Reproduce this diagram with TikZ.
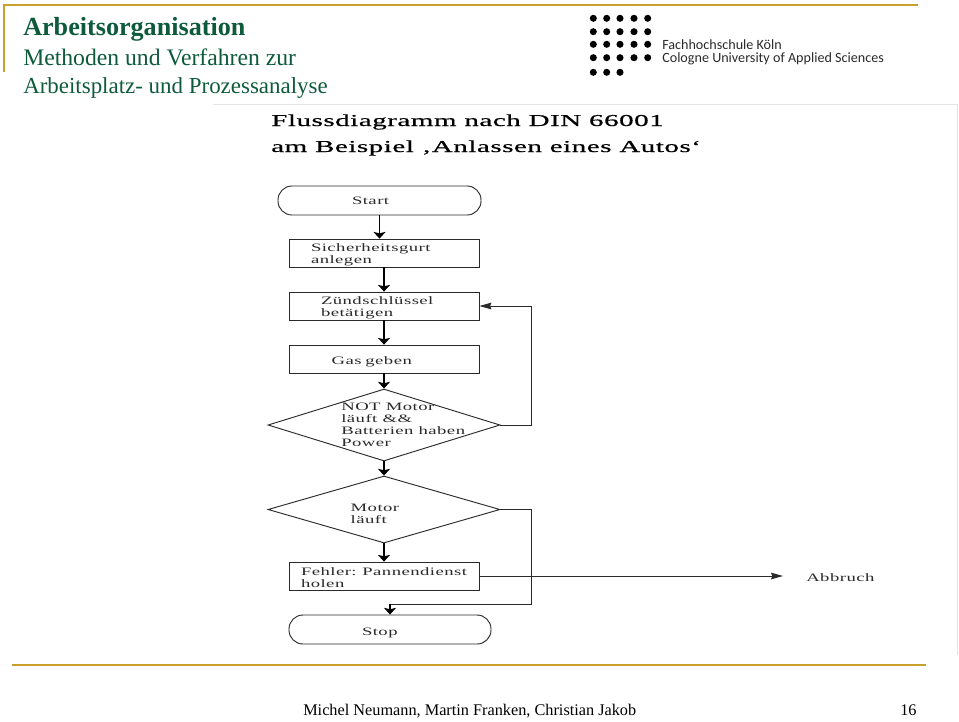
\documentclass[tikz,border=0pt]{standalone}
\usepackage{fontspec}
\setmainfont{Liberation Serif}
\newfontfamily\logofont{Carlito}
\newfontfamily\wideface[FakeStretch=1.65,LetterSpace=4]{Liberation Serif}
\newfontfamily\headface[FakeStretch=1.745,LetterSpace=3,FakeBold=0.6]{Liberation Serif}
\usetikzlibrary{arrows.meta,shapes.geometric}
\definecolor{gold}{HTML}{C9A02C}
\definecolor{deepgreen}{HTML}{0E5A3C}
\definecolor{framegrey}{HTML}{E4E4E4}
\definecolor{inkgrey}{HTML}{2A2A2A}
\newcommand\dectext[3]{\raisebox{#2}[0pt][0pt]{\makebox[0pt][l]{\hspace*{#1}\raisebox{-0.5\height}{\parbox[b]{120pt}{\raggedright\baselineskip=9pt #3}}}}}
\tikzset{
  x=0.75pt,y=-0.75pt,
  flowtext/.style={font=\wideface\fontsize{8.5}{9}\selectfont,text=inkgrey},
  procbox/.style={draw=inkgrey,line width=0.6pt,rectangle,minimum width=142.5pt,minimum height=21pt,inner sep=0pt,text width=142.5pt,align=left,flowtext},
  lead/.style 2 args={execute at begin node={\leftskip=#1\relax\rule{0pt}{#2}}},
  terminal/.style={draw=inkgrey,line width=0.7pt,rectangle,rounded corners=10.5pt,minimum height=21.75pt,inner sep=0pt,align=left,flowtext},
  decision/.style={draw=inkgrey,line width=0.7pt,diamond,inner sep=0pt,minimum width=174pt,flowtext},
  flow/.style={draw=black,line width=1.1pt,-{Stealth[length=5pt,width=9pt,inset=1pt]}},
  back/.style={draw=inkgrey,line width=0.75pt,-{Stealth[length=9pt,width=5pt,inset=1pt]}},
  plain/.style={draw=inkgrey,line width=0.75pt},
  goldrule/.style={draw=gold,line width=1.9pt},
  titlebig/.style={anchor=base west,inner sep=0pt,text=deepgreen,font=\bfseries\fontsize{19.6}{19}\selectfont},
  titlesub/.style={anchor=base west,inner sep=0pt,text=deepgreen,font=\fontsize{#1}{17}\selectfont},
  heading/.style={anchor=base west,inner sep=0pt,text=black,font=\headface\fontsize{12.5}{12}\selectfont},
  logotext/.style={anchor=base west,inner sep=0pt,text=inkgrey,font=\logofont\fontsize{10.6}{11}\selectfont},
  foot/.style={anchor=base west,inner sep=0pt,text=black,font=\fontsize{12.2}{13}\selectfont},
  logodot/.style={fill=black,circle,inner sep=0pt,minimum size=5.3pt},
}
\begin{document}
\begin{tikzpicture}
\useasboundingbox (0,0) rectangle (959,721);
% slide frame
\draw[goldrule] (3,5) -- (918,5);
\draw[goldrule] (4,5) -- (4,72);
\draw[goldrule] (12,665) -- (926,665);
\draw[framegrey,line width=0.7pt] (213,104.5) -- (957.5,104.5) -- (957.5,655);
% header
\node[titlebig] (t1) at (23,35) {Arbeitsorganisation};
\node[titlesub=17.75] (t2) at (23,65) {Methoden und Verfahren zur};
\node[titlesub=17.2] (t3) at (23,93) {Arbeitsplatz- und Prozessanalyse};
% logo
\foreach \row/\yy/\n in {a/18.3/5,b/31.7/5,c/44.3/5,d/57.7/5,e/72.3/3}{
  \foreach \xx [count=\i] in {593.3,606.7,620,634,647.7}{
    \ifnum\i>\n\else\node[logodot] (dot\row\i) at (\xx,\yy) {};\fi
  }
}
\node[logotext] (l1) at (662,49) {Fachhochschule Köln};
\node[logotext] (l2) at (662,62) {Cologne University of Applied Sciences};
% heading
\node[heading] (h1) at (271,126) {Flussdiagramm nach DIN 66001};
\node[heading] (h2) at (271,152) {am Beispiel ‚Anlassen eines Autos‘};
% flow nodes
\node[terminal,minimum width=152.25pt,text width=152.25pt,lead={55.5pt}{0pt}] (start) at (379.5,200.5) {Start};
\node[procbox,lead={16.5pt}{9pt}] (belt) at (384,253) {Sicherheitsgurt\\anlegen};
\node[procbox,lead={24pt}{9pt}] (key) at (384,306) {Zündschlüssel\\betätigen};
\node[procbox,lead={32pt}{10.3pt}] (gas) at (384,359) {Gas geben};
\node[decision,minimum height=54pt,aspect=3.22] (d1) at (384,425) {\dectext{-32pt}{0pt}{NOT Motor\\läuft \&\&\\Batterien haben\\Power}};
\node[decision,minimum height=50.25pt,aspect=3.46] (d2) at (384,509.5) {\dectext{-25pt}{-3.5pt}{Motor\\läuft}};
\node[procbox,lead={9pt}{9pt}] (err) at (384,576) {Fehler: Pannendienst\\holen};
\node[terminal,minimum width=151.5pt,text width=151.5pt,lead={54.75pt}{10.3pt}] (stop) at (390,629.5) {Stop};
\node[anchor=west,inner sep=0pt,flowtext] (abort) at (806,578) {Abbruch};
% connectors
\draw[flow] (start.south) -- (start.south |- belt.north);
\draw[flow] (belt.south) -- (key.north);
\draw[flow] (key.south) -- (gas.north);
\draw[flow] (gas.south) -- (d1.north);
\draw[flow] (d1.south) -- (d2.north);
\draw[flow] (d2.south) -- (err.north);
\coordinate (loopr) at (531,425);
\coordinate (looptop) at (531,306);
\draw[back] (d1.east) -- (loopr) -- (looptop) -- (key.east);
\coordinate (outr) at (531,509.5);
\coordinate (outb) at (531,604);
\coordinate (abortend) at (783,576);
\draw[plain] (d2.east) -- (outr) -- (outb) -- (stop.north |- outb);
\draw[flow] (stop.north |- outb) -- (stop.north);
\draw[back] (err.east) -- (abortend);
% footer
\node[foot] (f1) at (303,715) {Michel Neumann, Martin Franken, Christian Jakob};
\node[foot] (f2) at (900,715) {16};
\end{tikzpicture}
\end{document}
